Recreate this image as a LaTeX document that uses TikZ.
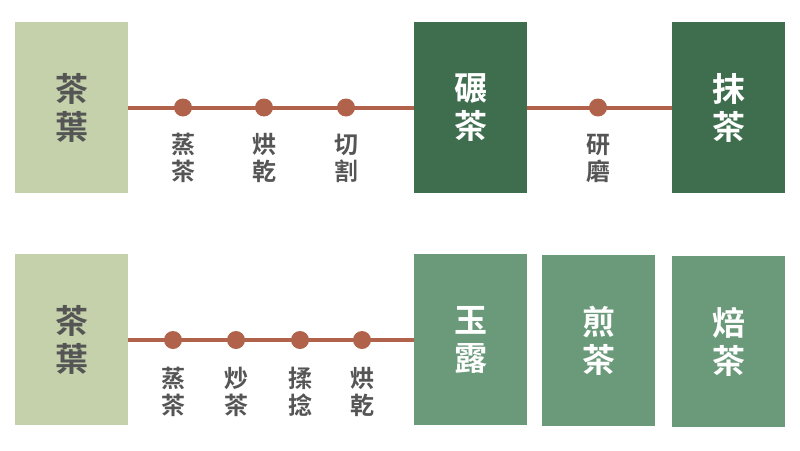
\documentclass[tikz,border=0pt]{standalone}
\usepackage{fontspec}
\newfontfamily\cjk{Noto Sans CJK TC}[BoldFont={* Bold}]
\definecolor{leafgreen}{HTML}{C5D1AA}
\definecolor{darkgreen}{HTML}{3F6E4F}
\definecolor{midgreen}{HTML}{6A9A7A}
\definecolor{rust}{HTML}{B0634A}
\definecolor{txtgray}{HTML}{555555}
\tikzset{
  teabox/.style={rectangle, minimum width=113pt, minimum height=171pt, inner sep=0pt, align=center,
     font=\cjk\bfseries\fontsize{33}{38}\selectfont},
  rawbox/.style={teabox, fill=leafgreen, text=txtgray},
  darkbox/.style={teabox, fill=darkgreen, text=white},
  midbox/.style={teabox, fill=midgreen, text=white},
  dot/.style={circle, fill=rust, minimum size=18pt, inner sep=0pt},
  steplabel/.style={align=center, text=txtgray, inner sep=0pt, font=\cjk\bfseries\fontsize{24}{27}\selectfont},
  flow/.style={draw=rust, line width=4pt}
}
\begin{document}
\begin{tikzpicture}[x=1pt,y=-1pt]
\useasboundingbox (0,0) rectangle (800,450);
% top row
\node[rawbox] (leafA) at (71.5,107.5) {茶\\葉};
\node[darkbox] (tencha) at (470.5,107.5) {碾\\茶};
\node[darkbox] (matcha) at (728.5,107.5) {抹\\茶};
\draw[flow] (leafA.east |- 0,107.5) -- (tencha.west |- 0,107.5);
\draw[flow] (tencha.east |- 0,107.5) -- (matcha.west |- 0,107.5);
\node[dot] (a1) at (183,107.5) {};
\node[dot] (a2) at (264,107.5) {};
\node[dot] (a3) at (346,107.5) {};
\node[dot] (a4) at (598,107.5) {};
\node[steplabel] (la1) at (183,158) {蒸\\茶};
\node[steplabel] (la2) at (264,158) {烘\\乾};
\node[steplabel] (la3) at (346,158) {切\\割};
\node[steplabel] (la4) at (598,158) {研\\磨};
% bottom row
\node[rawbox] (leafB) at (71.5,339.5) {茶\\葉};
\node[midbox] (gyokuro) at (470.5,339.5) {玉\\露};
\node[midbox] (sencha) at (598.5,340.5) {煎\\茶};
\node[midbox] (houjicha) at (728.5,341.5) {焙\\茶};
\draw[flow] (leafB.east |- 0,340) -- (gyokuro.west |- 0,340);
\node[dot] (b1) at (173,340) {};
\node[dot] (b2) at (236,340) {};
\node[dot] (b3) at (300,340) {};
\node[dot] (b4) at (362,340) {};
\node[steplabel] (lb1) at (173,391.5) {蒸\\茶};
\node[steplabel] (lb2) at (236,391.5) {炒\\茶};
\node[steplabel] (lb3) at (300,391.5) {揉\\捻};
\node[steplabel] (lb4) at (362,391.5) {烘\\乾};
\end{tikzpicture}
\end{document}
